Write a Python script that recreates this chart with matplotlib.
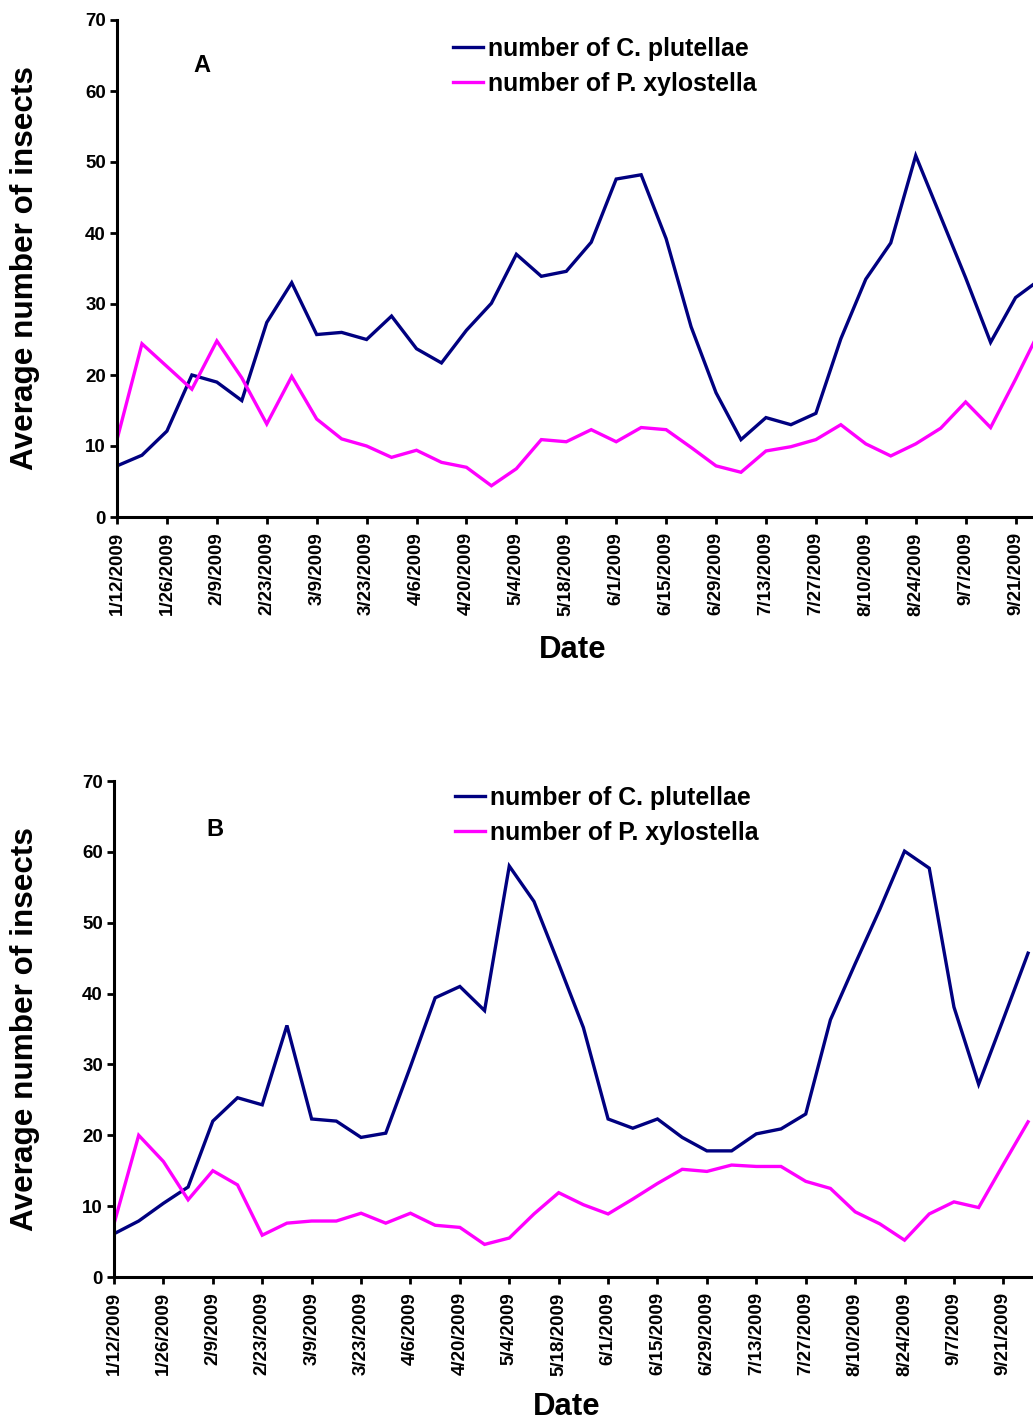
import matplotlib
matplotlib.use("Agg")
import matplotlib.pyplot as plt
import numpy as np

plt.rcParams["font.family"] = ["Liberation Sans", "DejaVu Sans"]
plt.rcParams["font.weight"] = "bold"

# fortnightly tick labels (sampling was weekly)
date_labels = [
    "1/12/2009", "1/26/2009", "2/9/2009", "2/23/2009", "3/9/2009",
    "3/23/2009", "4/6/2009", "4/20/2009", "5/4/2009", "5/18/2009",
    "6/1/2009", "6/15/2009", "6/29/2009", "7/13/2009", "7/27/2009",
    "8/10/2009", "8/24/2009", "9/7/2009", "9/21/2009",
]

# site A, weekly means
a_plutellae = [
    7.2, 8.7, 12.1, 20.0, 19.0, 16.4, 27.4, 33.0, 25.7, 26.0,
    25.0, 28.3, 23.7, 21.7, 26.3, 30.1, 37.0, 33.9, 34.6, 38.7,
    47.6, 48.2, 39.2, 26.8, 17.5, 10.9, 14.0, 13.0, 14.6, 25.1,
    33.5, 38.6, 50.9, 42.3, 33.7, 24.6, 30.9, 33.5,
]
a_xylostella = [
    10.9, 24.4, 21.2, 18.0, 24.8, 19.6, 13.1, 19.8, 13.8, 11.0,
    10.0, 8.4, 9.4, 7.7, 7.0, 4.4, 6.8, 10.9, 10.6, 12.3,
    10.6, 12.6, 12.3, 9.8, 7.2, 6.3, 9.3, 9.9, 10.9, 13.0,
    10.3, 8.6, 10.3, 12.5, 16.2, 12.6, 19.4, 26.5,
]

# site B, weekly means
b_plutellae = [
    6.1, 7.9, 10.4, 12.7, 22.0, 25.3, 24.3, 35.5, 22.3, 22.0,
    19.7, 20.3, 29.7, 39.4, 41.0, 37.6, 58.0, 53.0, 44.2, 35.2,
    22.3, 21.0, 22.3, 19.7, 17.8, 17.8, 20.2, 20.9, 23.0, 36.3,
    44.2, 51.9, 60.1, 57.7, 38.1, 27.2, 36.4, 45.7,
]
b_xylostella = [
    7.5, 20.0, 16.3, 10.9, 15.0, 13.0, 5.9, 7.6, 7.9, 7.9,
    9.0, 7.6, 9.0, 7.3, 7.0, 4.6, 5.5, 8.9, 11.9, 10.2,
    8.9, 11.0, 13.2, 15.2, 14.9, 15.8, 15.6, 15.6, 13.5, 12.5,
    9.2, 7.5, 5.2, 8.9, 10.6, 9.8, 15.9, 21.9,
]

W, H = 1033, 1422
fig = plt.figure(figsize=(W / 100, H / 100), dpi=100)


def px_axes(left, top, right, bottom):
    return fig.add_axes([left / W, 1 - bottom / H, (right - left) / W, (bottom - top) / H])


def draw_panel(ax, cp, px, letter, xmax, ax_px, legend_xy, letter_xy, date_y, ylab_x):
    weeks = np.arange(len(cp))
    ax.plot(weeks, cp, color="#000080", lw=2.4, label="number of C. plutellae",
            solid_joinstyle="miter")
    ax.plot(weeks, px, color="#FF00FF", lw=2.4, label="number of P. xylostella",
            solid_joinstyle="miter")
    ax.set_xlim(0, xmax)
    ax.set_ylim(0, 70)
    ax.set_yticks(np.arange(0, 71, 10))
    ax.set_xticks(np.arange(0, 2 * len(date_labels), 2))
    ax.set_xticklabels(date_labels, rotation=90)
    for s in ("top", "right"):
        ax.spines[s].set_visible(False)
    for s in ("left", "bottom"):
        ax.spines[s].set_linewidth(2.2)
    ax.tick_params(axis="both", direction="out", length=5, width=2)
    ax.tick_params(axis="x", pad=6, labelsize=13.5)
    ax.tick_params(axis="y", pad=3, labelsize=13.5)

    left, top, right, bottom = ax_px
    wpx, hpx = right - left, bottom - top
    ax.set_xlabel("Date", fontsize=22.4, fontweight="bold")
    ax.xaxis.set_label_coords((legend_xy[2] - left) / wpx, (bottom - date_y) / hpx)
    ax.set_ylabel("Average number of insects", fontsize=22.7, fontweight="bold")
    ax.yaxis.set_label_coords((ylab_x - left) / wpx, 0.5)

    ax.text((letter_xy[0] - left) / wpx, (bottom - letter_xy[1]) / hpx, letter,
            transform=ax.transAxes, fontsize=17, fontweight="bold",
            ha="center", va="center")

    leg = ax.legend(loc="upper left",
                    bbox_to_anchor=((legend_xy[0] - left) / wpx, (bottom - legend_xy[1]) / hpx),
                    frameon=False, fontsize=17.9, handlelength=1.2, handletextpad=0.2,
                    labelspacing=0.45, borderpad=0, borderaxespad=0)
    for t in leg.get_texts():
        t.set_fontweight("bold")


# panel A runs a little past the right edge of the page
ax_a_px = (117, 20, 1048, 517)
ax_a = px_axes(*ax_a_px)
draw_panel(ax_a, a_plutellae, a_xylostella, "A", 37.3, ax_a_px,
           (453, 37, 573), (202, 65), 635, 40)

ax_b_px = (114, 781, 1033, 1277)
ax_b = px_axes(*ax_b_px)
draw_panel(ax_b, b_plutellae, b_xylostella, "B", 37.2, ax_b_px,
           (455, 786, 567), (215, 829), 1392, 40)

fig.savefig("out.png", dpi=100)
